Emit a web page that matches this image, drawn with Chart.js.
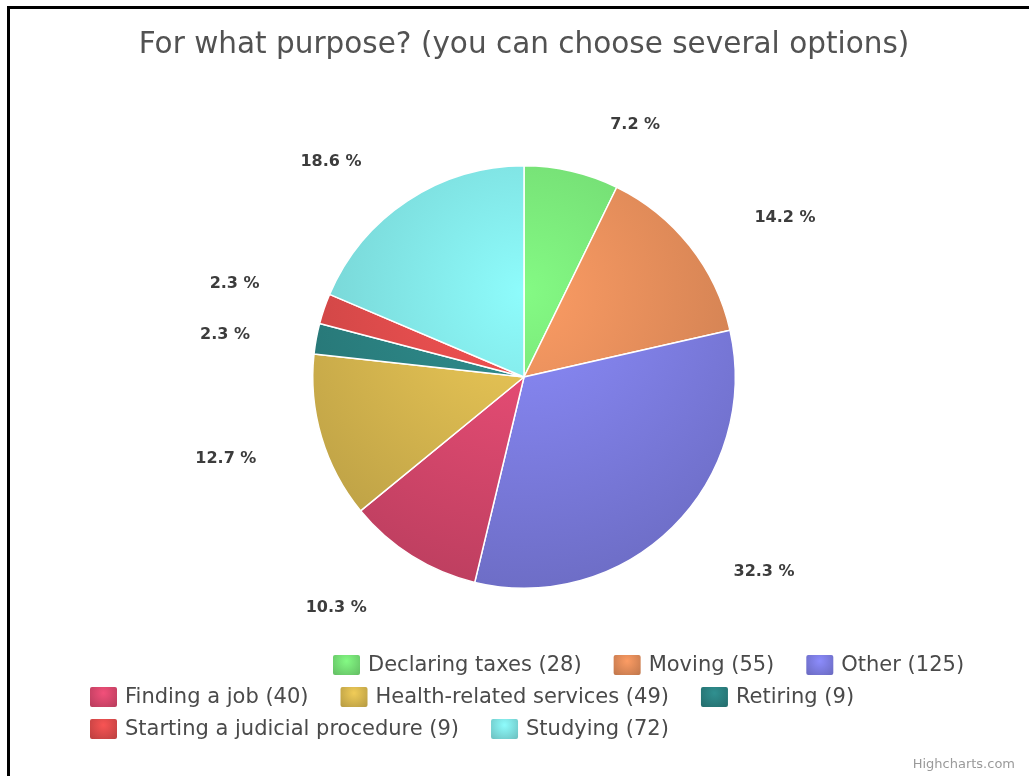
<!DOCTYPE html>
<html>
<head>
<meta charset="utf-8">
<script src="https://cdn.jsdelivr.net/npm/chart.js@4.4.1/dist/chart.umd.min.js"></script>
<style>
  html, body { margin: 0; padding: 0; background: #fff; overflow: hidden; }
  #wrap { position: relative; width: 1029px; height: 776px; }
  #frame { position: absolute; left: 7px; top: 6px; right: -10px; bottom: -10px;
           border-left: 3px solid #000; border-top: 3px solid #000; pointer-events: none; }
</style>
</head>
<body>
<div id="wrap"><canvas id="c"></canvas><div id="frame"></div></div>
<script>
const chartTitle = 'For what purpose? (you can choose several options)';
const categories = ['Declaring taxes', 'Moving', 'Other', 'Finding a job', 'Health-related services',
                    'Retiring', 'Starting a judicial procedure', 'Studying'];
const counts = [28, 55, 125, 40, 49, 9, 9, 72];
const sliceColors = ['#84fa84', '#fc9c64', '#8c8cfc', '#f2507a', '#f0cc58', '#309090', '#f85454', '#8efcfc'];
const legendRows = [[0, 1, 2], [3, 4, 5], [6, 7]];

const total = counts.reduce((a, b) => a + b, 0);
const pct = v => (v / total * 100).toFixed(1) + ' %';

function darken(hex, f) {
  const n = parseInt(hex.slice(1), 16);
  const r = Math.round(((n >> 16) & 255) * f), g = Math.round(((n >> 8) & 255) * f), b = Math.round((n & 255) * f);
  return `rgb(${r},${g},${b})`;
}

// Highcharts-style radial gradient over a bounding box
function boxGradient(ctx, x, y, w, h, color, f, rr) {
  const gx = x + w * 0.5, gy = y + h * 0.3, gr = rr * Math.max(w, h);
  const g = ctx.createRadialGradient(gx, gy, 0, gx, gy, gr);
  g.addColorStop(0, color);
  g.addColorStop(1, darken(color, f));
  return g;
}

function sliceFill(context) {
  const chart = context.chart, i = context.dataIndex, area = chart.chartArea;
  if (!area || i == null) return sliceColors[i] || '#ccc';
  const cx = (area.left + area.right) / 2, cy = (area.top + area.bottom) / 2;
  const r = Math.min(area.right - area.left, area.bottom - area.top) / 2;
  return boxGradient(chart.ctx, cx - r, cy - r, 2 * r, 2 * r, sliceColors[i], 0.76, 0.78);
}

const percentLabels = {
  id: 'percentLabels',
  afterDatasetsDraw(chart) {
    const ctx = chart.ctx;
    const arcs = chart.getDatasetMeta(0).data;
    const right = [], left = [];
    arcs.forEach((arc, i) => {
      const p = arc.getProps(['x', 'y', 'startAngle', 'endAngle', 'outerRadius'], true);
      const mid = (p.startAngle + p.endAngle) / 2;
      const R = p.outerRadius + 47;
      const item = { i, x: p.x + R * Math.cos(mid), y: p.y + 6 + (R + 7) * Math.sin(mid) };
      (Math.cos(mid) >= 0 ? right : left).push(item);
    });
    // push left-side labels apart, bottom to top
    left.sort((a, b) => b.y - a.y);
    for (let k = 1; k < left.length; k++) left[k].y = Math.min(left[k].y, left[k - 1].y - 51);
    ctx.save();
    ctx.font = 'bold 16px "DejaVu Sans"';
    ctx.fillStyle = '#3c3c3c';
    ctx.textBaseline = 'middle';
    ctx.textAlign = 'left';
    right.forEach(it => ctx.fillText(pct(counts[it.i]), it.x + 28, it.y));
    ctx.textAlign = 'right';
    left.forEach(it => ctx.fillText(pct(counts[it.i]), it.x - 20, it.y));
    ctx.restore();
  }
};

const decorations = {
  id: 'decorations',
  afterDraw(chart) {
    const ctx = chart.ctx, area = chart.chartArea;
    const cx = (area.left + area.right) / 2;
    ctx.save();
    // title
    ctx.font = '29.5px "DejaVu Sans"';
    ctx.fillStyle = '#525252';
    ctx.textAlign = 'center';
    ctx.textBaseline = 'alphabetic';
    ctx.fillText(chartTitle, cx, 53);
    // legend
    const rowStart = [333, 90, 90];
    const rowY = [665, 697, 729];
    ctx.font = '21px "DejaVu Sans"';
    ctx.textAlign = 'left';
    ctx.textBaseline = 'middle';
    legendRows.forEach((row, r) => {
      let x = rowStart[r];
      row.forEach(i => {
        const y = rowY[r];
        ctx.fillStyle = boxGradient(ctx, x, y - 10, 27, 20, sliceColors[i], 0.76, 0.7);
        ctx.beginPath();
        ctx.roundRect(x, y - 10, 27, 20, 2);
        ctx.fill();
        const label = `${categories[i]} (${counts[i]})`;
        ctx.fillStyle = '#4a4a4a';
        ctx.fillText(label, x + 35, y + 1);
        x += 35 + ctx.measureText(label).width + 32;
      });
    });
    // credits
    ctx.font = '13px "DejaVu Sans"';
    ctx.fillStyle = '#9a9a9a';
    ctx.textAlign = 'right';
    ctx.fillText('Highcharts.com', 1015, 765);
    ctx.restore();
  }
};

new Chart(document.getElementById('c'), {
  type: 'pie',
  data: {
    labels: categories,
    datasets: [{
      data: counts,
      backgroundColor: sliceFill,
      borderColor: '#ffffff',
      borderWidth: 1.5,
      hoverOffset: 0
    }]
  },
  options: {
    responsive: true,
    maintainAspectRatio: false,
    animation: false,
    layout: { padding: { left: 312, right: 293, top: 165, bottom: 187 } },
    plugins: {
      legend: { display: false },
      title: { display: false },
      tooltip: { enabled: false }
    }
  },
  plugins: [percentLabels, decorations]
});
</script>
</body>
</html>
